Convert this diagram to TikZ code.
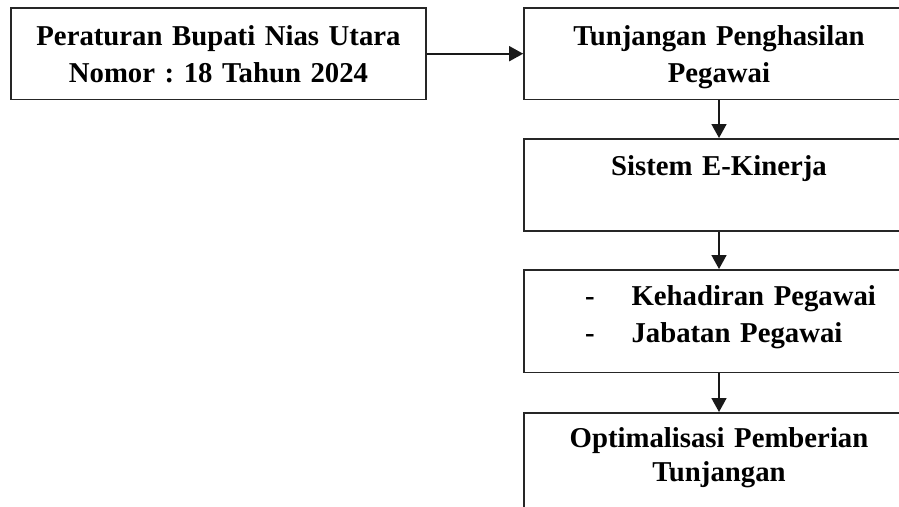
\documentclass[tikz,border=0pt]{standalone}
\usepackage{fontspec}
\setmainfont{Liberation Serif}
\frenchspacing
\usetikzlibrary{arrows.meta, positioning}

% struts: space above the first baseline and below the last one
\newcommand{\atas}[1]{\rule{0pt}{#1pt}}
\newcommand{\bawah}[1]{\rule[-#1pt]{0pt}{#1pt}}

\tikzset{
    kotak/.style={draw=black!85, line width=1.7pt, anchor=north, inner xsep=0pt, inner ysep=0pt,
        minimum width=390pt, text width=390pt, align=center,
        font=\bfseries\fontsize{28.75}{36.7}\selectfont},
    panah/.style={draw=black!90, line width=1.7pt, -{Triangle[length=14pt, width=15pt]}}
}

\begin{document}
\begin{tikzpicture}[x=1pt, y=-1pt]
    \useasboundingbox (0,0) rectangle (899,506);
    \clip (0,0) rectangle (899,506);

    \node[kotak, minimum width=415pt, text width=415pt] (perbup) at (218.5,7)
        {\atas{38}Peraturan Bupati Nias Utara\\Nomor : 18 Tahun 2024\bawah{17}};
    \node[kotak] (tpp) at (719,7)
        {\atas{38}Tunjangan Penghasilan\\Pegawai\bawah{17}};
    \node[kotak] (ekinerja) at (719,138)
        {\atas{37}Sistem E-Kinerja\bawah{55}};
    \node[kotak, align=left] (indikator) at (719,269)
        {\atas{36}\hspace*{61pt}-\hspace*{37pt}Kehadiran Pegawai\\
         \hspace*{61pt}-\hspace*{37pt}Jabatan Pegawai\bawah{30}};
    \node[kotak] (optimal) at (719,412)
        {\atas{35}Optimalisasi Pemberian\\[-3pt]Tunjangan\bawah{60}};

    \draw[panah] (perbup) -- (tpp);
    \draw[panah] (tpp) -- (ekinerja);
    \draw[panah] (ekinerja) -- (indikator);
    \draw[panah] (indikator) -- (optimal);
\end{tikzpicture}
\end{document}
